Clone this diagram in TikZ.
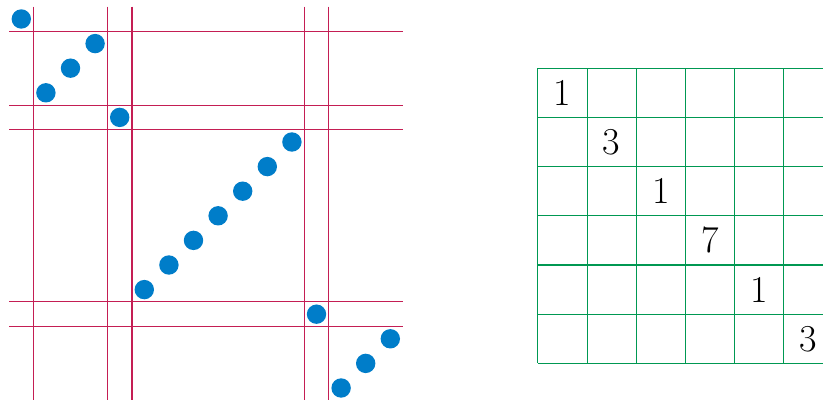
\documentclass[tikz,border=0pt]{standalone}
\definecolor{linecol}{RGB}{196,30,84}
\definecolor{dotcol}{RGB}{0,125,201}
\definecolor{gridcol}{RGB}{0,152,82}
\tikzset{
  sepline/.style={draw=linecol, line width=1.1pt},
  permdot/.style={circle, fill=dotcol, minimum size=19.4pt, inner sep=0pt},
  gridline/.style={draw=gridcol, line width=1.1pt},
  cellnum/.style={inner sep=0pt, font=\fontsize{38}{40}\selectfont}
}
\begin{document}
\begin{tikzpicture}[x=24.6pt,y=-24.6pt]
\useasboundingbox (-0.866,-0.772) rectangle (32.589,15.488);
% separating lines
\foreach \v in {0.5,3.5,4.5,11.5,12.5}{
  \draw[sepline] (\v,-0.5) -- (\v,15.5);
  \draw[sepline] (-0.5,\v) -- (15.5,\v);
}
% permutation dots
\foreach \yy [count=\k from 0] in {0,3,2,1,4,11,10,9,8,7,6,5,12,15,14,13}{
  \node[permdot] (d\k) at (\k,\yy) {};
}
% grid
\foreach \i in {0,...,6}{
  \draw[gridline] (21+2*\i,2) -- (21+2*\i,14);
  \draw[gridline] (21,2+2*\i) -- (33,2+2*\i);
}
\foreach \n [count=\i from 0] in {1,3,1,7,1,3}{
  \node[cellnum] (c\i) at (22+2*\i,3+2*\i) {\n};
}
\end{tikzpicture}
\end{document}
